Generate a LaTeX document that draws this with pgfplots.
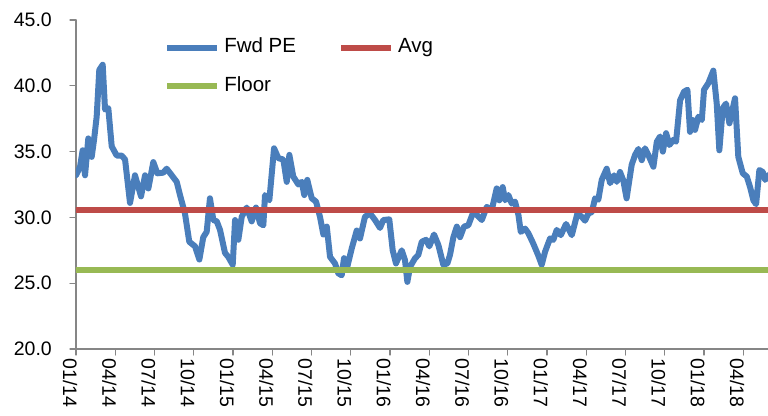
\documentclass[border=0pt]{standalone}
\usepackage{pgfplots}
\pgfplotsset{compat=1.18}
\usepackage{pgfplotstable}
\usepackage{fontspec}
\setmainfont{Liberation Sans}
\definecolor{pe}{HTML}{4A7EBB}
\definecolor{avg}{HTML}{BE4B48}
\definecolor{flr}{HTML}{98B954}
\definecolor{axgray}{HTML}{868686}
\pgfplotstableread{
x y
0.00 33.2
0.31 33.85
0.51 35.1
0.69 33.2
0.94 36.0
1.20 34.6
1.38 35.9
1.58 37.65
1.78 41.2
2.04 41.6
2.22 38.2
2.47 38.3
2.73 35.4
3.11 34.7
3.49 34.7
3.75 34.4
4.13 31.1
4.51 33.2
4.97 31.6
5.28 33.2
5.53 32.2
5.91 34.2
6.22 33.35
6.67 33.4
6.93 33.7
7.32 33.2
7.70 32.7
7.95 31.7
8.33 30.3
8.66 28.15
9.10 27.8
9.43 26.8
9.73 28.5
9.99 28.9
10.24 31.45
10.50 29.8
10.76 29.7
11.01 29.05
11.39 27.3
11.64 27.0
11.98 26.4
12.16 29.8
12.41 28.3
12.67 30.05
13.05 30.75
13.43 29.7
13.76 30.75
14.07 29.55
14.32 29.4
14.45 31.7
14.78 31.3
15.14 35.25
15.47 34.5
15.85 34.4
16.11 32.7
16.31 34.75
16.61 33.1
17.00 32.5
17.26 32.7
17.45 31.7
17.68 32.85
18.02 31.45
18.35 31.2
18.65 30.05
18.91 28.7
19.17 29.3
19.42 27.0
19.80 26.5
20.05 25.75
20.31 25.6
20.49 26.9
20.74 26.25
21.08 27.65
21.46 29.0
21.71 28.4
22.09 30.05
22.48 30.3
22.86 29.8
23.24 29.2
23.49 29.8
23.95 29.85
24.21 27.5
24.46 26.5
24.90 27.5
25.15 26.75
25.33 25.1
25.54 26.25
25.92 26.9
26.17 27.15
26.43 28.15
26.76 28.3
27.01 27.8
27.37 28.7
27.70 27.9
28.08 26.4
28.39 26.5
28.59 27.15
28.85 28.5
29.11 29.3
29.36 28.5
29.66 29.3
29.99 29.4
30.33 30.3
30.63 30.2
31.02 29.8
31.40 30.8
31.78 30.55
32.16 32.2
32.36 31.3
32.62 32.3
32.80 31.3
33.05 31.7
33.31 31.05
33.56 31.2
33.82 30.2
34.00 28.9
34.33 29.15
34.58 28.8
34.96 28.0
35.34 27.1
35.60 26.4
35.86 27.4
36.24 28.4
36.49 28.3
36.75 29.05
37.06 28.65
37.46 29.5
37.90 28.65
38.33 30.3
38.66 30.05
38.91 29.75
39.17 30.3
39.43 30.4
39.68 31.45
39.93 31.35
40.19 32.85
40.57 33.7
40.83 32.6
41.13 33.2
41.34 32.7
41.59 33.45
41.84 32.8
42.09 31.45
42.48 34.0
42.74 34.75
42.99 35.2
43.25 34.35
43.50 35.25
43.75 34.75
44.14 33.85
44.40 35.75
44.65 36.15
44.86 35.0
45.11 36.4
45.36 35.5
45.67 35.9
45.87 35.75
46.18 38.9
46.48 39.55
46.74 39.7
46.94 36.5
47.15 37.4
47.32 36.65
47.58 37.65
47.84 37.4
48.01 39.7
48.34 40.2
48.72 41.15
48.98 38.65
49.18 35.1
49.44 38.3
49.69 38.65
49.95 37.15
50.38 39.05
50.63 34.6
50.97 33.35
51.28 33.1
51.53 32.3
51.78 31.3
51.99 31.0
52.24 33.6
52.50 33.45
52.68 32.85
52.90 33.2
}\pedata
\pgfplotstableread{
x y
0 30.6
52.9 30.6
}\avgdata
\pgfplotstableread{
x y
0 26.0
52.9 26.0
}\floordata
\begin{document}
\begin{tikzpicture}
\begin{axis}[
  scale only axis,
  width=692bp, height=329bp,
  xmin=0, xmax=52.9,
  ymin=20, ymax=45,
  axis lines=left,
  axis line style={-, draw=axgray, line width=1.2bp},
  tick style={draw=axgray, line width=1.2bp},
  tick align=outside,
  major tick length=6bp,
  xtick={0,3,...,51},
  xticklabels={01/14,04/14,07/14,10/14,01/15,04/15,07/15,10/15,01/16,04/16,07/16,10/16,01/17,04/17,07/17,10/17,01/18,04/18},
  ytick={20,25,30,35,40,45},
  /pgf/number format/assume math mode=true,
  /pgf/number format/fixed,
  /pgf/number format/fixed zerofill,
  /pgf/number format/precision=1,
  tick label style={font=\fontsize{19.5bp}{23bp}\selectfont, text=black},
  yticklabel style={anchor=east, inner sep=0pt, xshift=-18bp},
  xticklabel style={rotate=-90, anchor=west, yshift=-6bp},
  legend columns=2,
  legend cell align=left,
  legend style={draw=none, fill=none, at={(0.123,0.949)}, anchor=north west,
    font=\fontsize{20.5bp}{24bp}\selectfont,
    nodes={inner sep=0pt, text height=14bp, text depth=4bp},
    row sep=20.5bp,
    /tikz/every even column/.append style={column sep=42bp},
    /tikz/every odd column/.append style={column sep=4bp}},
  legend image code/.code={\draw[#1] (0bp,0bp) -- (50bp,0bp);},
  line join=round, line cap=round,
]
\addplot[pe, line width=6bp] table[x=x,y=y] {\pedata};
\addlegendentry{Fwd PE}
\addplot[avg, line width=6bp] table[x=x,y=y] {\avgdata};
\addlegendentry{Avg}
\addplot[flr, line width=6bp] table[x=x,y=y] {\floordata};
\addlegendentry{Floor}
\end{axis}
\pgfresetboundingbox
\path[use as bounding box] ([xshift=-76bp,yshift=-67bp]current axis.south west) rectangle ([yshift=20bp]current axis.north east);
\end{tikzpicture}
\end{document}
